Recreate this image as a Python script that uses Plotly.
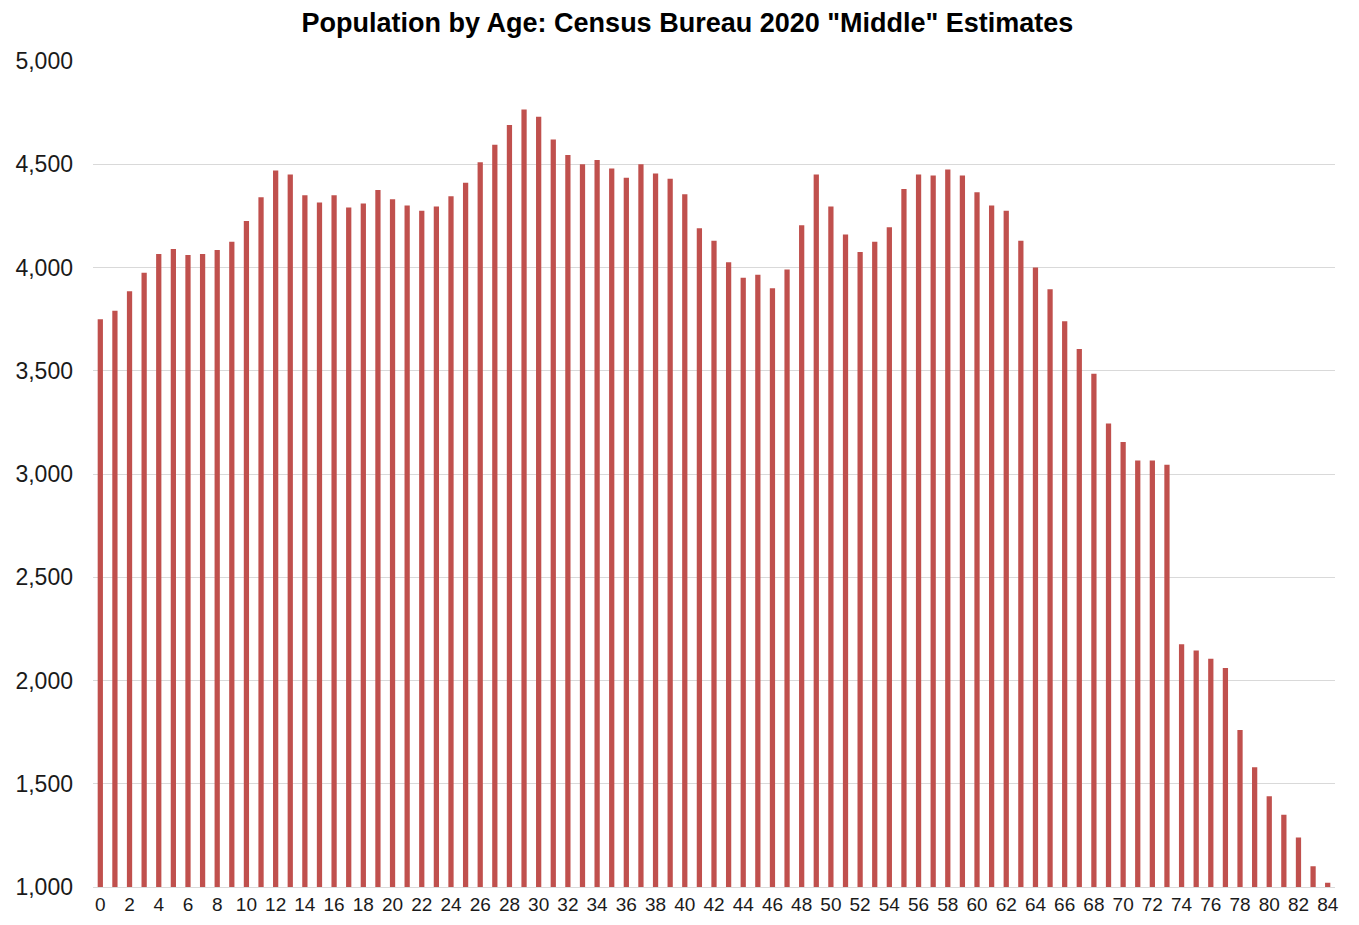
import plotly.graph_objects as go

ages = list(range(0, 85))
population = [
    3750, 3790, 3885, 3975, 4065, 4090, 4060, 4065, 4085, 4125,
    4225, 4340, 4470, 4450, 4350, 4315, 4350, 4290, 4310, 4375,
    4330, 4300, 4275, 4295, 4345, 4410, 4510, 4595, 4690, 4765,
    4730, 4620, 4545, 4500, 4520, 4480, 4435, 4500, 4455, 4430,
    4355, 4190, 4130, 4025, 3950, 3965, 3900, 3990, 4205, 4450,
    4295, 4160, 4075, 4125, 4195, 4380, 4450, 4445, 4475, 4445,
    4365, 4300, 4275, 4130, 4000, 3895, 3740, 3605, 3485, 3245,
    3155, 3065, 3065, 3045, 2175, 2145, 2105, 2060, 1760, 1580,
    1440, 1350, 1240, 1100, 1020,
]
x_tick_vals = list(range(0, 85, 2))
y_tick_vals = list(range(1000, 5001, 500))

fig = go.Figure(go.Bar(
    x=ages, y=population,
    marker=dict(color="#C0504D", line=dict(width=0)),
))

fig.update_layout(
    width=1359, height=925,
    margin=dict(l=85, r=32, t=53, b=46),
    paper_bgcolor="white", plot_bgcolor="white",
    bargap=0.64,
    showlegend=False,
    font=dict(family="Liberation Sans, Arial, sans-serif", color="#1a1a1a"),
    title=dict(
        text='<b>Population by Age: Census Bureau 2020 "Middle" Estimates</b>',
        x=0.5, xanchor="center", y=0.995, yanchor="top",
        font=dict(size=27, color="#000000"),
        automargin=False,
    ),
)
fig.update_xaxes(
    range=[-0.5, 84.5], tickmode="array", tickvals=x_tick_vals,
    ticktext=[str(v) for v in x_tick_vals],
    tickfont=dict(size=19, color="#1a1a1a"),
    showgrid=False, showline=True, linecolor="#d9d9d9", linewidth=1,
    ticks="", ticklen=0, automargin=False,
)
fig.update_yaxes(
    range=[1000, 5000], tickmode="array", tickvals=y_tick_vals,
    ticktext=[f"{v:,}" for v in y_tick_vals],
    tickfont=dict(size=23, color="#1a1a1a"),
    showgrid=True, gridcolor="#d9d9d9", gridwidth=1,
    zeroline=False, showline=False, ticks="", ticklabelstandoff=19,
    automargin=False,
)

fig.write_html("out.html")
